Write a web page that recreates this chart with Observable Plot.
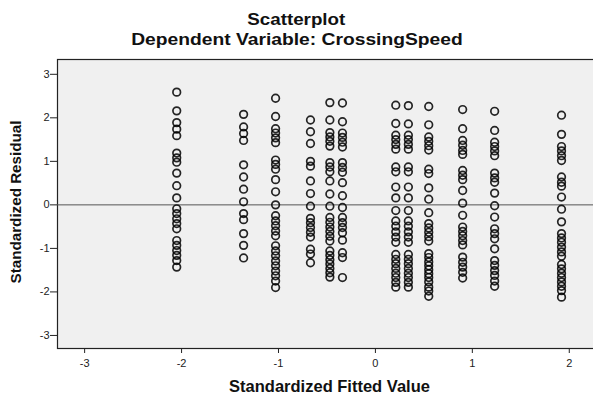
<!DOCTYPE html>
<html>
<head>
<meta charset="utf-8">
<script src="https://cdn.jsdelivr.net/npm/d3@7"></script>
<script src="https://cdn.jsdelivr.net/npm/@observablehq/plot@0.6"></script>
<style>
  html, body { margin: 0; padding: 0; background: #fff; }
  body { width: 593px; height: 396px; overflow: hidden; font-family: "Liberation Sans", Arial, sans-serif; }
  #head { position: relative; height: 58px; }
  .t { position: absolute; left: 0; width: 593px; text-align: center; line-height: 1; font-weight: bold; color: #111; }
  .t span { display: inline-block; transform: scaleX(1.16); transform-origin: center; }
  #chart svg { display: block; }
</style>
</head>
<body>
<div id="head">
  <div class="t" style="top:11.3px;font-size:16.2px"><span id="title"></span></div>
  <div class="t" style="top:32px;font-size:16.6px"><span id="subtitle"></span></div>
</div>
<div id="chart"></div>
<script>
const title = "Scatterplot";
const subtitle = "Dependent Variable: CrossingSpeed";
const xLabel = "Standardized Fitted Value";
const yLabel = "Standardized Residual";

const xTicks = [-3, -2, -1, 0, 1, 2];
const yTicks = [-3, -2, -1, 0, 1, 2, 3];

// standardized fitted value of each vertical column of points
const fittedValues = [-2.05, -1.36, -1.03, -0.67, -0.47, -0.34, 0.21, 0.34, 0.55, 0.90, 1.23, 1.92];

// standardized residuals, one array per column
const resA = [2.59, 2.16, 1.89, 1.74, 1.59, 1.19, 1.08, 0.98, 0.73, 0.44, 0.16, -0.09, -0.20, -0.32, -0.43, -0.55, -0.82, -0.93, -1.05, -1.16, -1.28, -1.43];
const resB = [2.08, 1.79, 1.64, 1.48, 0.92, 0.64, 0.36, 0.07, -0.20, -0.34, -0.66, -0.93, -1.22];
const resC = [2.45, 2.03, 1.75, 1.65, 1.54, 1.43, 1.03, 0.93, 0.82, 0.58, 0.30, 0.00, -0.25, -0.37, -0.48, -0.60, -0.71, -0.94, -1.06, -1.17, -1.29, -1.40, -1.52, -1.63, -1.75, -1.90];
const resD = [1.95, 1.68, 1.41, 1.00, 0.89, 0.55, 0.26, -0.03, -0.31, -0.41, -0.52, -0.63, -0.74, -1.02, -1.13, -1.33];
const resE = [2.35, 1.95, 1.66, 1.56, 1.46, 1.35, 0.97, 0.87, 0.76, 0.55, 0.25, -0.03, -0.29, -0.40, -0.51, -0.61, -0.72, -0.83, -1.06, -1.16, -1.26, -1.36, -1.46, -1.56, -1.66];
const resF = [2.34, 1.91, 1.65, 1.55, 1.44, 1.33, 0.97, 0.86, 0.75, 0.51, 0.21, -0.06, -0.29, -0.41, -0.52, -0.64, -0.81, -1.10, -1.21, -1.67];
const resG = [2.29, 1.87, 1.60, 1.50, 1.39, 1.28, 0.87, 0.76, 0.41, 0.16, -0.13, -0.37, -0.49, -0.62, -0.74, -0.86, -1.14, -1.25, -1.35, -1.46, -1.57, -1.67, -1.78, -1.89];
const resH = [2.28, 1.86, 1.60, 1.50, 1.39, 1.28, 0.87, 0.76, 0.41, 0.16, -0.13, -0.37, -0.49, -0.62, -0.74, -0.86, -1.14, -1.25, -1.35, -1.46, -1.57, -1.67, -1.78, -1.89];
const resI = [2.26, 1.84, 1.56, 1.46, 1.36, 1.26, 0.82, 0.72, 0.39, 0.13, -0.18, -0.43, -0.53, -0.63, -0.73, -0.83, -1.12, -1.21, -1.31, -1.40, -1.49, -1.58, -1.67, -1.77, -1.89, -1.98, -2.10];
const resJ = [2.19, 1.75, 1.48, 1.37, 1.25, 1.16, 0.79, 0.68, 0.58, 0.33, 0.04, -0.24, -0.51, -0.61, -0.71, -0.82, -0.92, -1.20, -1.32, -1.43, -1.55, -1.68];
const resK = [2.15, 1.71, 1.44, 1.34, 1.24, 1.13, 0.73, 0.62, 0.52, 0.27, -0.02, -0.28, -0.55, -0.66, -0.78, -1.01, -1.28, -1.39, -1.51, -1.62, -1.75, -1.87];
const resL = [2.06, 1.62, 1.34, 1.24, 1.13, 1.02, 0.64, 0.52, 0.43, 0.18, -0.10, -0.39, -0.66, -0.76, -0.86, -0.97, -1.08, -1.18, -1.37, -1.47, -1.57, -1.67, -1.77, -1.87, -1.97, -2.12];

const residualColumns = [resA, resB, resC, resD, resE, resF, resG, resH, resI, resJ, resK, resL];

const points = residualColumns.flatMap((col, i) => col.map(r => ({fitted: fittedValues[i], resid: r})));

document.getElementById("title").textContent = title;
document.getElementById("subtitle").textContent = subtitle;

const chart = Plot.plot({
  width: 593,
  height: 338,
  marginTop: 1,
  marginBottom: 48,
  marginLeft: 57,
  marginRight: 0,
  style: {fontFamily: "'Liberation Sans', Arial, sans-serif", fontSize: "11px", color: "#222", background: "transparent", overflow: "visible"},
  x: {domain: [-3.28, 2.25]},
  y: {domain: [-3.3, 3.34]},
  marks: [
    Plot.frame({fill: "#f0f0f0", stroke: "#222", strokeWidth: 1.2, insetRight: -3}),
    Plot.ruleY([0], {stroke: "#555", strokeWidth: 1}),
    Plot.dot(points, {x: "fitted", y: "resid", r: 3.8, stroke: "#000", strokeWidth: 1.7, strokeOpacity: 0.85, fill: "none"}),
    Plot.axisX({ticks: xTicks, tickSize: 5, tickPadding: 6, tickFormat: d => String(d), label: null, fontSize: 11}),
    Plot.axisY({ticks: yTicks, tickSize: 7, tickPadding: 1, tickFormat: d => String(d), label: null, fontSize: 11}),
    Plot.text([xLabel], {text: d => d, frameAnchor: "bottom", dx: 4, dy: 43, fontSize: 16.5, fontWeight: "bold", fill: "#111", letterSpacing: "0.5px"}),
    Plot.text([yLabel], {text: d => d, frameAnchor: "left", textAnchor: "middle", dx: -41, dy: -2, rotate: -90, fontSize: 15.2, fontWeight: "bold", fill: "#111"})
  ]
});
document.getElementById("chart").appendChild(chart);
</script>
</body>
</html>
